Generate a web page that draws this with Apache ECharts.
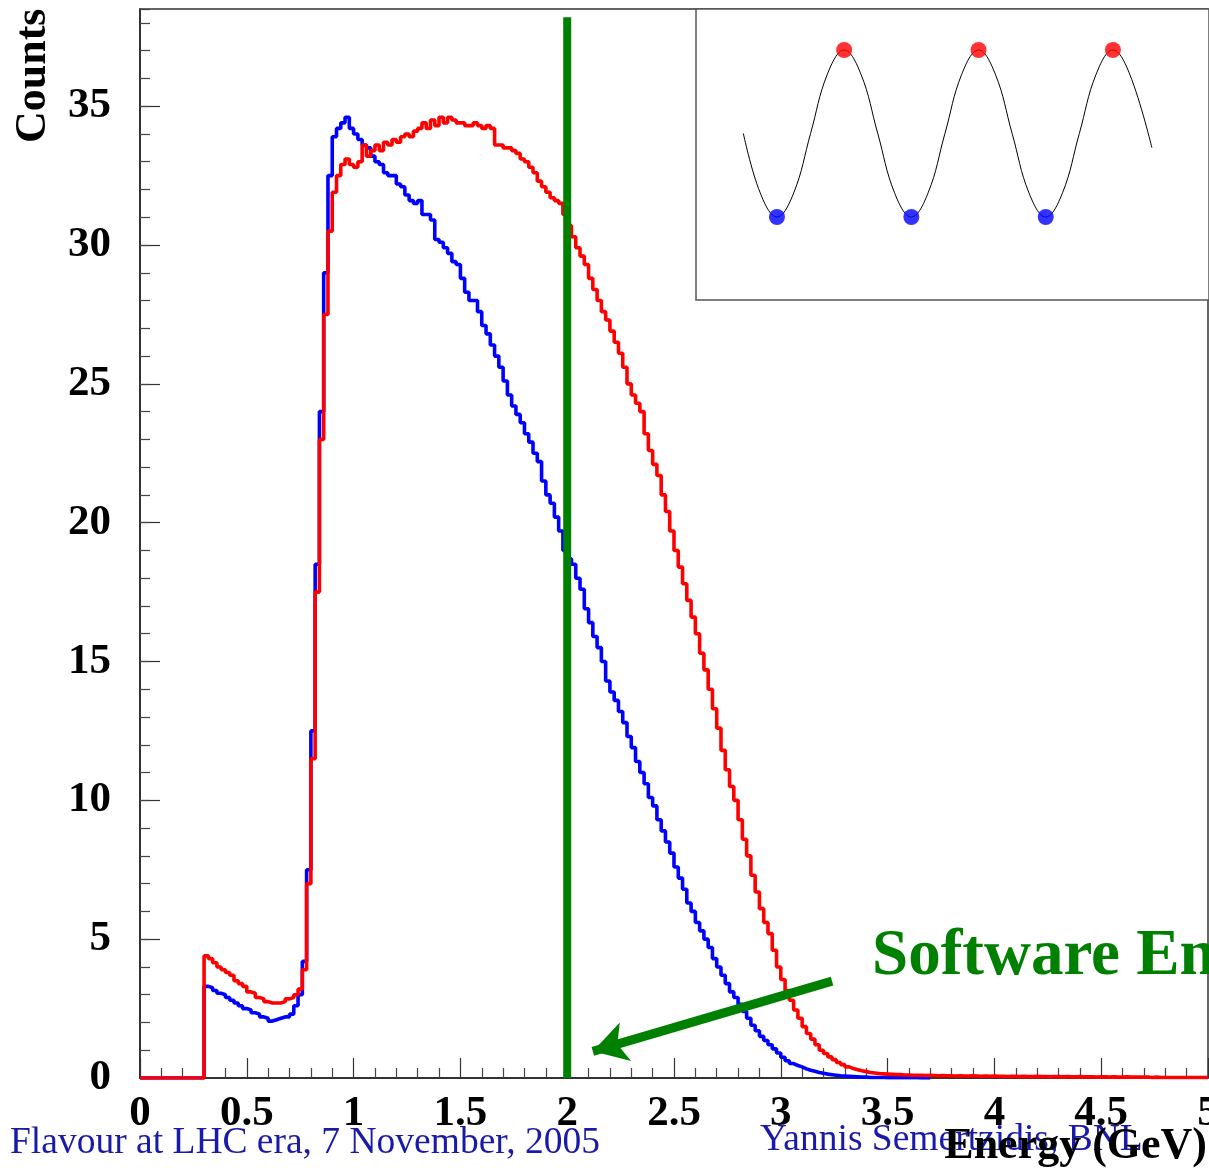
<!DOCTYPE html>
<html>
<head>
<meta charset="utf-8">
<script src="https://cdn.jsdelivr.net/npm/echarts@6/dist/echarts.min.js"></script>
<style>
  html, body { margin: 0; padding: 0; background: #fff; }
  #chart { width: 1209px; height: 1170px; }
</style>
</head>
<body>
<div id="chart"></div>
<script>
// histogram bins: left edges start at binStart, width binWidth (GeV)
var binStart = 0.30;
var binWidth = 0.02;

// blue histogram, bins 0.30 .. 3.68
var blueCounts = [
  3.3, 3.25, 3.15, 3.05, 3.0, 2.9, 2.8, 2.7, 2.6, 2.5,
  2.45, 2.35, 2.3, 2.2, 2.15, 2.05, 2.1, 2.15, 2.2, 2.2,
  2.3, 2.6, 3.0, 4.2, 7.5, 12.5, 18.5, 24, 29, 32.5,
  33.9, 34.2, 34.4, 34.6, 34.2, 34.0, 33.8, 33.6, 33.5, 33.2,
  33.0, 32.9, 32.6, 32.5, 32.5, 32.2, 32.1, 31.8, 31.6, 31.5,
  31.6, 31.1, 31.1, 30.9, 30.2, 30.1, 29.9, 29.7, 29.4, 29.3,
  28.8, 28.3, 28.0, 28.0, 27.6, 27.1, 26.8, 26.4, 26.0, 25.6,
  25.1, 24.6, 24.2, 23.9, 23.6, 23.2, 22.9, 22.5, 22.2, 21.5,
  21.0, 20.7, 20.2, 19.7, 19.0, 18.7, 18.5, 18.0, 17.6, 16.9,
  16.4, 15.9, 15.5, 15.0, 14.3, 13.9, 13.6, 13.2, 12.8, 12.3,
  11.9, 11.4, 11.0, 10.6, 10.1, 9.8, 9.3, 8.9, 8.5, 8.1,
  7.6, 7.2, 6.8, 6.3, 6.0, 5.6, 5.3, 5.0, 4.7, 4.3,
  4.0, 3.7, 3.4, 3.1, 2.9, 2.65, 2.4, 2.15, 1.9, 1.7,
  1.5, 1.35, 1.2, 1.05, 0.9, 0.75, 0.62, 0.52, 0.45, 0.4,
  0.33, 0.28, 0.24, 0.2, 0.17, 0.14, 0.12, 0.1, 0.08, 0.07,
  0.06, 0.05, 0.04, 0.03, 0.03, 0.02, 0.02, 0.02, 0.02, 0.01,
  0.01, 0.01, 0.01, 0.01, 0.01, 0.01, 0.01, 0.0, 0.0, 0.0
];

// red histogram, bins 0.30 .. 4.98
var redCounts = [
  4.4, 4.3, 4.15, 4.0, 3.9, 3.8, 3.7, 3.5, 3.4, 3.3,
  3.1, 3.05, 2.9, 2.85, 2.75, 2.7, 2.7, 2.7, 2.75, 2.85,
  2.9, 3.0, 3.2, 3.9, 7.0, 11.5, 17.5, 23, 27.5, 30.5,
  31.9, 32.5, 32.9, 33.1, 32.9, 32.8, 33.0, 33.6, 33.2, 33.4,
  33.6, 33.4, 33.7, 33.6, 33.8, 33.7, 33.9, 34.0, 33.9, 34.1,
  34.2, 34.4, 34.2, 34.5, 34.3, 34.6, 34.4, 34.6, 34.5, 34.4,
  34.4, 34.3, 34.3, 34.4, 34.3, 34.2, 34.3, 34.2, 33.6, 33.6,
  33.5, 33.5, 33.4, 33.3, 33.1, 33.0, 32.8, 32.6, 32.3, 32.1,
  31.9, 31.7, 31.6, 31.5, 31.1, 30.7, 30.3, 29.9, 29.6, 29.3,
  28.8, 28.4, 28.0, 27.6, 27.3, 26.9, 26.5, 26.1, 25.6, 25.0,
  24.6, 24.3, 24.0, 23.2, 22.6, 22.1, 21.7, 21.0, 20.4, 19.7,
  19.0, 18.4, 17.8, 17.2, 16.6, 16.0, 15.3, 14.7, 14.0, 13.3,
  12.6, 11.8, 11.1, 10.5, 10.0, 9.3, 8.6, 8.0, 7.3, 6.7,
  6.1, 5.6, 5.2, 4.6, 4.0, 3.55, 3.15, 2.8, 2.45, 2.15,
  1.85, 1.6, 1.4, 1.2, 1.0, 0.88, 0.76, 0.66, 0.56, 0.48,
  0.4, 0.34, 0.3, 0.26, 0.23, 0.2, 0.18, 0.16, 0.15, 0.14,
  0.13, 0.12, 0.12, 0.11, 0.11, 0.1, 0.1, 0.1, 0.09, 0.1,
  0.09, 0.08, 0.09, 0.08, 0.08, 0.07, 0.08, 0.07, 0.07, 0.08,
  0.07, 0.06, 0.07, 0.06, 0.07, 0.06, 0.06, 0.05, 0.06, 0.06,
  0.05, 0.06, 0.05, 0.05, 0.06, 0.05, 0.05, 0.04, 0.05, 0.05,
  0.04, 0.05, 0.04, 0.04, 0.05, 0.04, 0.04, 0.04, 0.03, 0.04,
  0.04, 0.03, 0.04, 0.03, 0.03, 0.04, 0.03, 0.03, 0.03, 0.03,
  0.03, 0.02, 0.03, 0.02, 0.02
];

var cutEnergy = 2.0;
var arrowFrom = [3.24, 3.49];
var arrowTo = [2.12, 0.96];

// inset: sine wave, phase in quarter periods
var insetPhase = [-1, -0.5, 0, 0.5, 1, 1.5, 2, 2.5, 3, 3.5, 4, 4.5, 5, 5.5, 6, 6.5, 7, 7.5, 8, 8.5, 9, 9.5, 10, 10.5, 11.16];
var insetWave = [0, -0.71, -1, -0.71, 0, 0.71, 1, 0.71, 0, -0.71, -1, -0.71, 0, 0.71, 1, 0.71, 0, -0.71, -1, -0.71, 0, 0.71, 1, 0.71, -0.17];
var insetRed = [[2, 1], [6, 1], [10, 1]];
var insetBlue = [[0, -1], [4, -1], [8, -1]];

function toSteps(counts, xEnd, endVal) {
  var pts = [[0, 0]];
  for (var i = 0; i < counts.length; i++) {
    pts.push([+(binStart + i * binWidth).toFixed(3), counts[i]]);
  }
  pts.push([xEnd, endVal]);
  return pts;
}

var serif = "'Liberation Serif', 'Times New Roman', serif";
var myChart = echarts.init(document.getElementById('chart'), null, { renderer: 'canvas' });

var option = {
  backgroundColor: '#fff',
  animation: false,
  grid: [
    { left: 140, top: 9, width: 1068, height: 1069, show: true, borderColor: '#333', borderWidth: 1.5,
      backgroundColor: '#fff', outerBoundsMode: 'none', containLabel: false },
    { left: 696, top: 9, width: 513, height: 291, show: true, borderColor: '#555', borderWidth: 1.5,
      backgroundColor: '#fff', z: 5, outerBoundsMode: 'none', containLabel: false }
  ],
  xAxis: [
    {
      type: 'value', gridIndex: 0, min: 0, max: 5, interval: 0.5,
      axisLine: { show: true, onZero: false, lineStyle: { color: '#222', width: 1.5 } },
      axisTick: { show: true, inside: true, length: 20, lineStyle: { color: '#333', width: 1.2 } },
      minorTick: { show: true, splitNumber: 5, length: 10, lineStyle: { color: '#444', width: 1.2 } },
      splitLine: { show: false },
      axisLabel: {
        show: true, margin: 14, color: '#000', fontSize: 43, fontWeight: 'bold', fontFamily: serif,
        formatter: function (v) { return String(+v.toFixed(1)); }
      }
    },
    { type: 'value', gridIndex: 1, min: -2.41, max: 12.86, show: false }
  ],
  yAxis: [
    {
      type: 'value', gridIndex: 0, min: 0, max: 38.5, interval: 5,
      axisLine: { show: true, onZero: false, lineStyle: { color: '#222', width: 1.5 } },
      axisTick: { show: true, inside: true, length: 20, lineStyle: { color: '#333', width: 1.2 } },
      splitLine: { show: false },
      axisLabel: {
        show: true, margin: 29, color: '#000', fontSize: 43, fontWeight: 'bold', fontFamily: serif,
        showMaxLabel: false
      }
    },
    {
      type: 'value', gridIndex: 0, min: 0, max: 38.5, interval: 1, position: 'left',
      axisLine: { show: false },
      axisTick: { show: true, inside: true, length: 10, lineStyle: { color: '#444', width: 1.2 } },
      axisLabel: { show: false },
      splitLine: { show: false }
    },
    { type: 'value', gridIndex: 1, min: -1.994, max: 1.491, show: false }
  ],
  series: [
    {
      name: 'blue', type: 'line', xAxisIndex: 0, yAxisIndex: 0, step: 'end', symbol: 'none', z: 3,
      lineStyle: { color: '#0000ff', width: 3.6 },
      data: toSteps(blueCounts, +(binStart + blueCounts.length * binWidth).toFixed(3), 0)
    },
    {
      name: 'red', type: 'line', xAxisIndex: 0, yAxisIndex: 0, step: 'end', symbol: 'none', z: 4,
      lineStyle: { color: '#ff0000', width: 3.6 },
      data: toSteps(redCounts, 5, redCounts[redCounts.length - 1])
    },
    {
      name: 'cut', type: 'line', xAxisIndex: 0, yAxisIndex: 0, symbol: 'none', z: 6,
      lineStyle: { color: '#008000', width: 8 },
      data: [[cutEnergy, 0], [cutEnergy, 38.2]],
      markLine: {
        silent: true, symbol: ['none', 'arrow'], symbolSize: [30, 34],
        label: { show: false },
        lineStyle: { color: '#008000', width: 9, type: 'solid' },
        data: [[{ coord: arrowFrom }, { coord: arrowTo }]]
      }
    },
    {
      name: 'wave', type: 'line', xAxisIndex: 1, yAxisIndex: 2, smooth: 0.4, symbol: 'none', z: 7,
      lineStyle: { color: '#000', width: 1 },
      data: insetPhase.map(function (p, i) { return [p, insetWave[i]]; })
    },
    {
      name: 'peaks', type: 'scatter', xAxisIndex: 1, yAxisIndex: 2, symbolSize: 16, z: 8,
      itemStyle: { color: '#ff0000' }, data: insetRed
    },
    {
      name: 'troughs', type: 'scatter', xAxisIndex: 1, yAxisIndex: 2, symbolSize: 16, z: 8,
      itemStyle: { color: '#0000ff' }, data: insetBlue
    }
  ],
  graphic: [
    {
      type: 'text', x: 34, y: 143, rotation: Math.PI / 2, z: 10,
      style: { text: 'Counts', fill: '#000', font: 'bold 44px ' + serif, textAlign: 'left', textVerticalAlign: 'middle' }
    },
    {
      type: 'text', x: 872, y: 957, z: 10,
      style: { text: 'Software Energy Cut', fill: '#008000', font: 'bold 65px ' + serif, textAlign: 'left', textVerticalAlign: 'middle' }
    },
    {
      type: 'text', x: 10, y: 1143, z: 10,
      style: { text: 'Flavour at LHC era, 7 November, 2005', fill: '#1a1aa8', font: '37.5px ' + serif, textAlign: 'left', textVerticalAlign: 'middle' }
    },
    {
      type: 'text', x: 760, y: 1140, z: 10,
      style: { text: 'Yannis Semertzidis, BNL', fill: '#1a1aa8', font: '37.5px ' + serif, textAlign: 'left', textVerticalAlign: 'middle' }
    },
    {
      type: 'text', x: 1207, y: 1147, z: 11,
      style: { text: 'Energy (GeV)', fill: '#000', font: 'bold 44px ' + serif, textAlign: 'right', textVerticalAlign: 'middle' }
    }
  ]
};

myChart.setOption(option);
</script>
</body>
</html>
